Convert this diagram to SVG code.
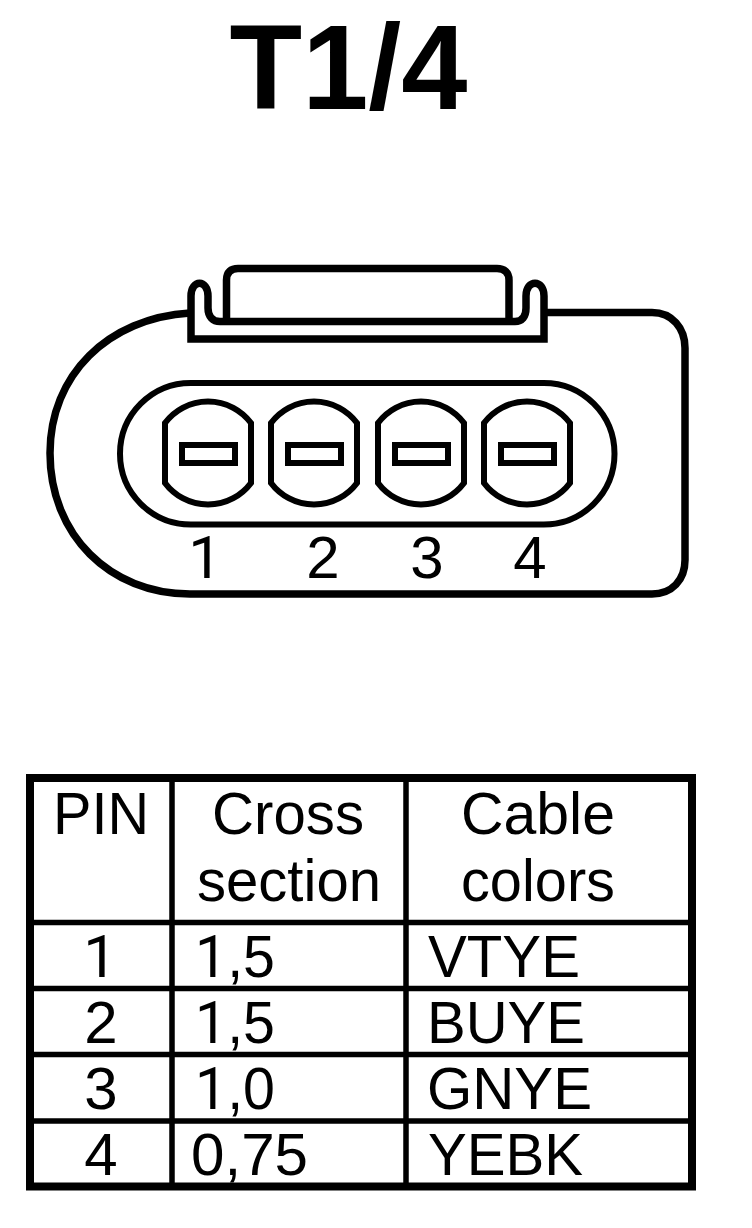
<svg xmlns="http://www.w3.org/2000/svg" width="752" height="1228" viewBox="0 0 752 1228">
<style>
text{font-family:"Liberation Sans",Arial,sans-serif;fill:#000;font-size:60px;font-kerning:none}
.m{text-anchor:middle}
.t{font-size:120px;font-weight:bold}
.r{font-family:Roboto,"Liberation Sans",sans-serif}
.l{fill:none;stroke:#000;stroke-width:6}
.h{fill:none;stroke:#000;stroke-width:7.500}
.g{stroke:#000;stroke-width:5.500;fill:none}
</style>
<defs>
<g id="pin"><path class="l" d="M-43,-30A53.750,53.750 0 0 1 43,-30V30A53.750,53.750 0 0 1 -43,30Z"/><rect class="l" x="-26" y="-8" width="53" height="18"/></g>
</defs>
<rect width="752" height="1228" fill="#fff"/>
<g id="title"><text class="t" x="229.500" y="109" textLength="238" lengthAdjust="spacingAndGlyphs">T1/4</text></g>
<g id="connector">
<path class="h" d="M190,313C108,318 50,375 50,453C50,535 110,594 190,594H652C672,594 685,580 685,560V348C685,328 672,312.500 652,312.500H547"/>
<path class="h" d="M191,339V296C191,279 208,279 208,296V308C208,317 213,321.500 220,321.500H515C522,321.500 526,317 526,308V296C526,279 544,279 544,296V339Z"/>
<path class="h" d="M226.500,321V280C226.500,272 231,268.500 238,268.500H497C504,268.500 509,272 509,280V321"/>
<rect class="l" x="120" y="383" width="494.500" height="141.500" rx="70.750"/>
<use href="#pin" x="208" y="453"/>
<use href="#pin" x="314" y="453"/>
<use href="#pin" x="421" y="453"/>
<use href="#pin" x="527" y="453"/>
<text class="m r" x="205" y="578">1</text>
<text class="m" x="323" y="578">2</text>
<text class="m" x="427" y="578">3</text>
<text class="m" x="530" y="578">4</text>
</g>
<g id="table">
<rect x="30" y="778" width="662" height="408.500" fill="none" stroke="#000" stroke-width="8"/>
<path class="g" d="M172,778V1186M406,778V1186M30,922.500H692M30,988.500H692M30,1054.500H692M30,1121H692"/>
<text class="m" x="101" y="834" textLength="96" lengthAdjust="spacingAndGlyphs">PIN</text>
<text class="m" x="288" y="834" textLength="152" lengthAdjust="spacingAndGlyphs">Cross</text>
<text class="m" x="289" y="901" textLength="184" lengthAdjust="spacingAndGlyphs">section</text>
<text class="m" x="538" y="834" textLength="154" lengthAdjust="spacingAndGlyphs">Cable</text>
<text class="m" x="538" y="901" textLength="154" lengthAdjust="spacingAndGlyphs">colors</text>
<text class="m r" x="100" y="977">1</text><text x="195" y="977" textLength="80" lengthAdjust="spacingAndGlyphs"><tspan class="r">1</tspan>,5</text><text x="428" y="977" textLength="152" lengthAdjust="spacingAndGlyphs">VTYE</text>
<text class="m" x="101" y="1043">2</text><text x="195" y="1043" textLength="80" lengthAdjust="spacingAndGlyphs"><tspan class="r">1</tspan>,5</text><text x="427" y="1043" textLength="158" lengthAdjust="spacingAndGlyphs">BUYE</text>
<text class="m" x="101" y="1109">3</text><text x="195" y="1109" textLength="80" lengthAdjust="spacingAndGlyphs"><tspan class="r">1</tspan>,0</text><text x="427" y="1109" textLength="165" lengthAdjust="spacingAndGlyphs">GNYE</text>
<text class="m" x="101" y="1175">4</text><text x="191" y="1175" textLength="117" lengthAdjust="spacingAndGlyphs">0,75</text><text x="428" y="1175" textLength="155" lengthAdjust="spacingAndGlyphs">YEBK</text>
</g>
</svg>
